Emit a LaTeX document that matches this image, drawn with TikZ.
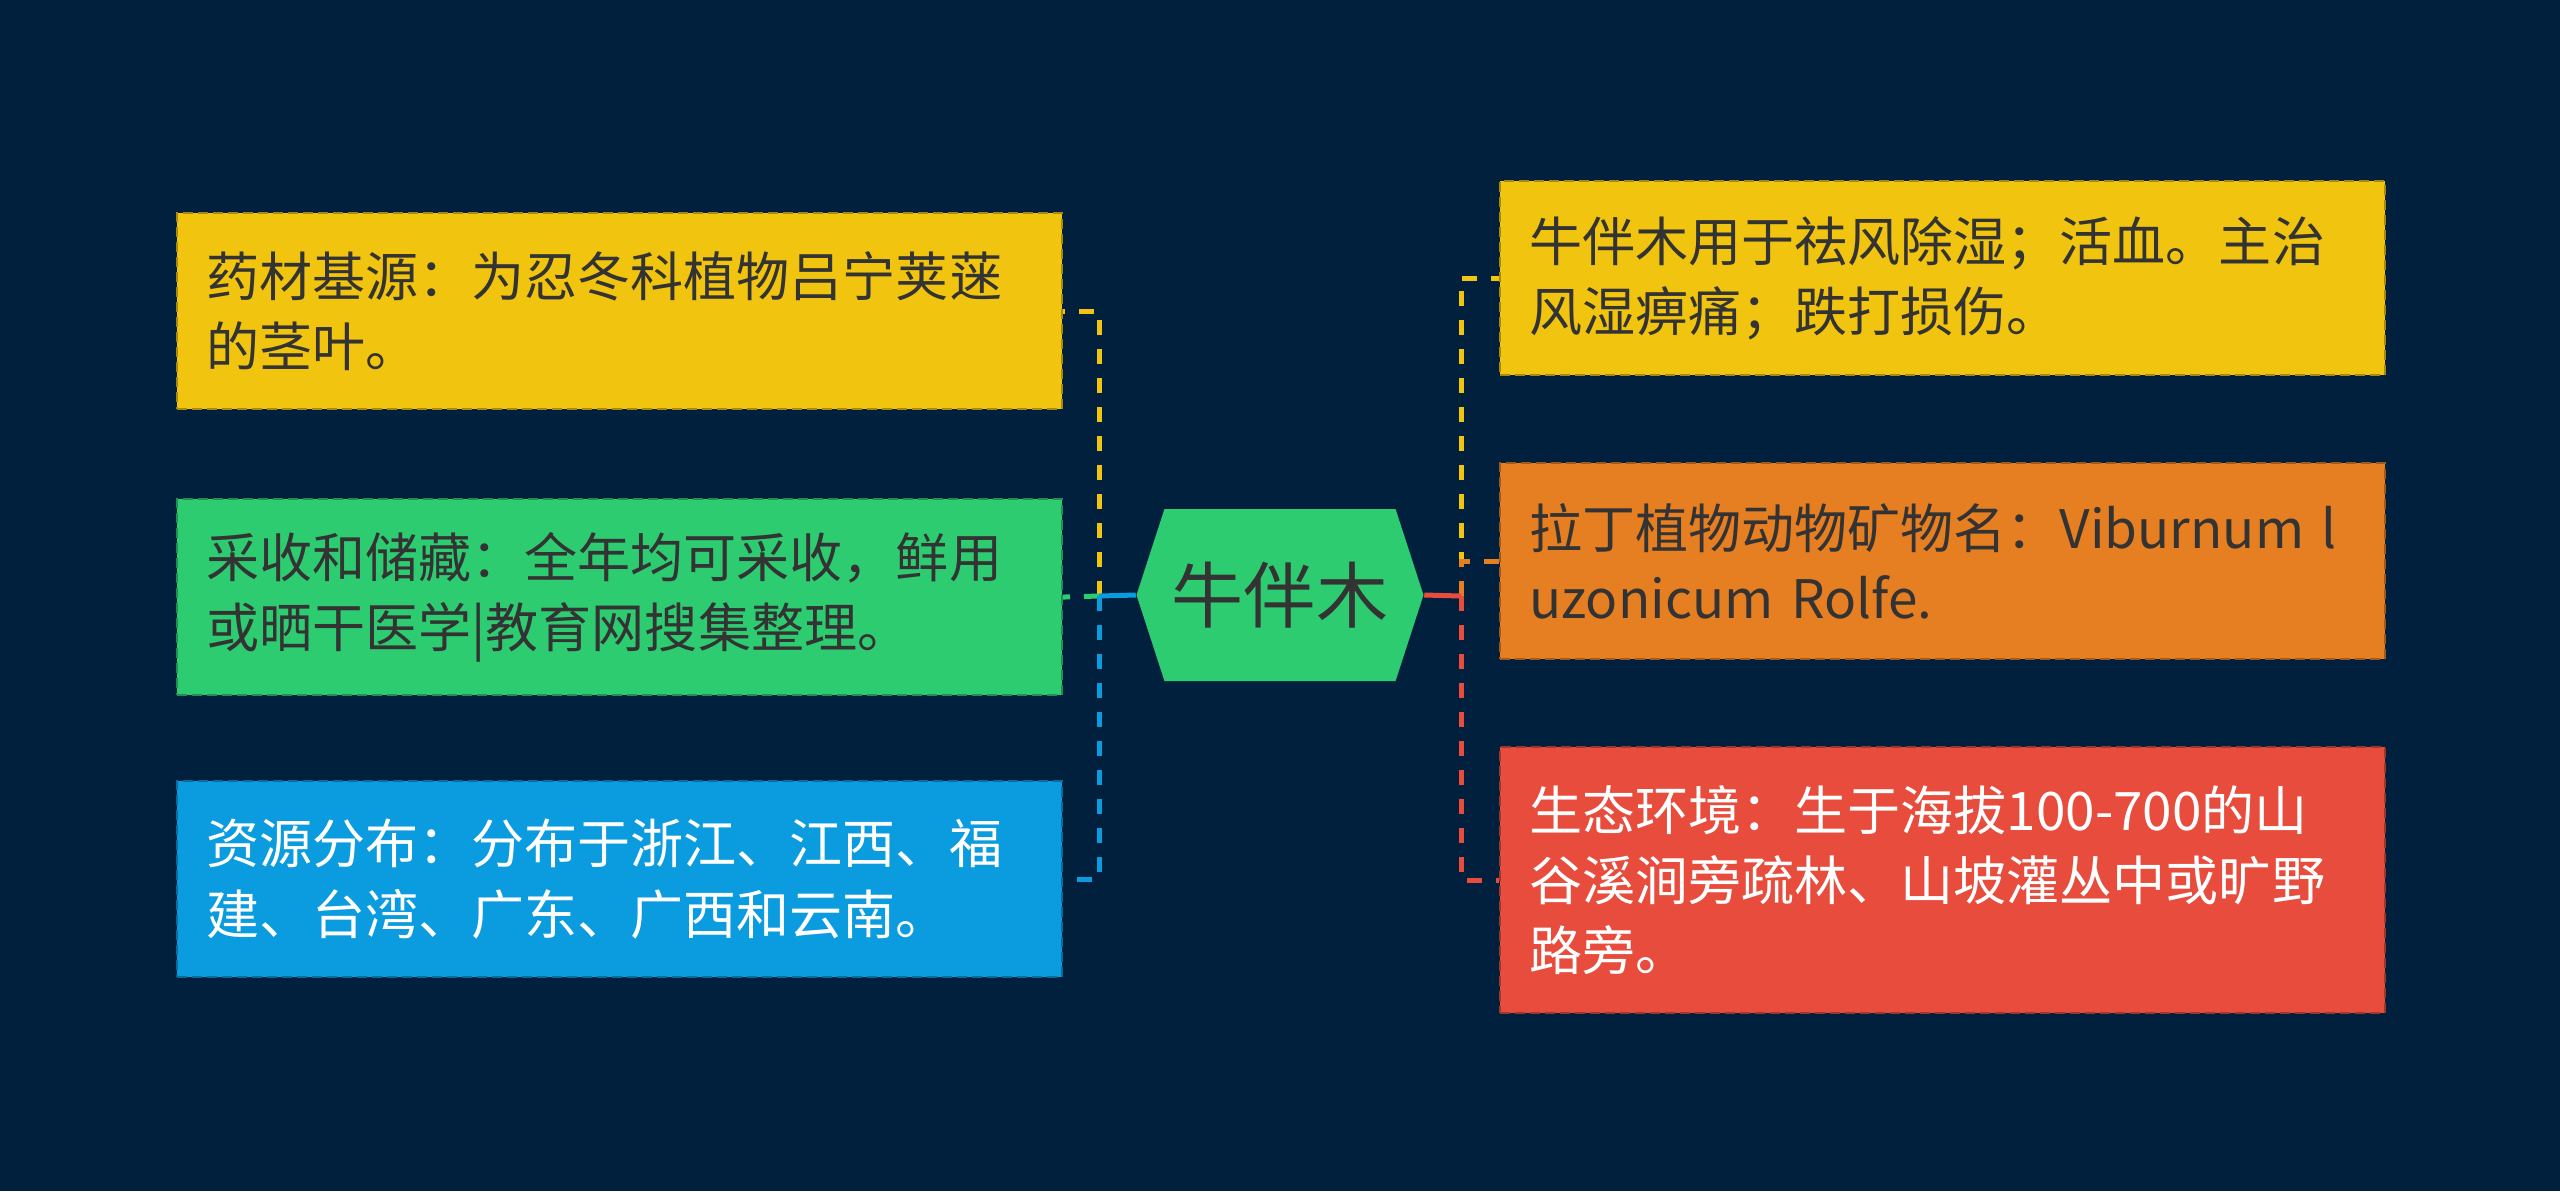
\documentclass[tikz,border=0pt]{standalone}
\usepackage{fontspec}
\setmainfont{Noto Sans CJK SC}
\usetikzlibrary{shapes.symbols}
\definecolor{navy}{HTML}{00203D}
\definecolor{sun}{HTML}{F1C40F}
\definecolor{leaf}{HTML}{2ECC71}
\definecolor{sky}{HTML}{0B9BDF}
\definecolor{carrot}{HTML}{E67E22}
\definecolor{brick}{HTML}{E74C3C}
\definecolor{ink}{HTML}{333333}

\begin{document}
\begin{tikzpicture}[b/.style={anchor=north west,fill=#1,draw=#1!70!black,dash pattern=on 0.1cm off 0.05cm,line width=0.6pt,align=left,text width=8.27cm,inner xsep=0.29cm,inner ysep=0pt,minimum height=1.96cm,font=\fontsize{15.1}{20}\selectfont,text=ink},
hub/.style={shape=signal,signal to=east and west,signal pointer angle=144,fill=leaf,minimum width=2.87cm,minimum height=1.72cm,inner sep=0pt,font=\fontsize{20.5}{24}\selectfont,text=ink},
c/.style={line width=0.05cm,draw=#1},
d/.style={line width=0.05cm,draw=#1,dash pattern=on 0.15cm off 0.14cm}]
\fill[navy] (0,0) rectangle (25.6,-11.91);
\node[hub] (m) at (12.80,-5.95) {牛伴木};
\node[b=sun] (l1) at (1.76,-2.12) {药材基源：为忍冬科植物吕宁荚蒾\\的茎叶。};
\node[b=leaf] (l2) at (1.76,-4.98) {采收和储藏：全年均可采收，鲜用\\或晒干医学|教育网搜集整理。};
\node[b=sky,text=white] (l3) at (1.76,-7.80) {资源分布：分布于浙江、江西、福\\建、台湾、广东、广西和云南。};
\node[b=sun,minimum height=1.94cm] (r1) at (14.99,-1.80) {牛伴木用于祛风除湿；活血。主治\\风湿痹痛；跌打损伤。};
\node[b=carrot] (r2) at (14.99,-4.62) {拉丁植物动物矿物名：Viburnum l\\uzonicum Rolfe.};
\node[b=brick,text=white,minimum height=2.66cm] (r3) at (14.99,-7.46) {生态环境：生于海拔100-700的山\\谷溪涧旁疏林、山坡灌丛中或旷野\\路旁。};
\coordinate (jl) at (10.99,-5.96);
\coordinate (jr) at (14.61,-5.96);
\draw[d=sun] (jl) |- (l1.east);
\draw[d=leaf] (jl) -- (l2.east);
\draw[d=sky] (jl) |- (l3.east);
\draw[c=sky] (m.west) -- (jl);
\draw[d=sun] (jr) |- (r1.west);
\draw[d=carrot] (jr) |- (r2.west);
\draw[d=brick] (jr) |- (r3.west);
\draw[c=brick] (m.east) -- (jr);
\end{tikzpicture}
\end{document}
